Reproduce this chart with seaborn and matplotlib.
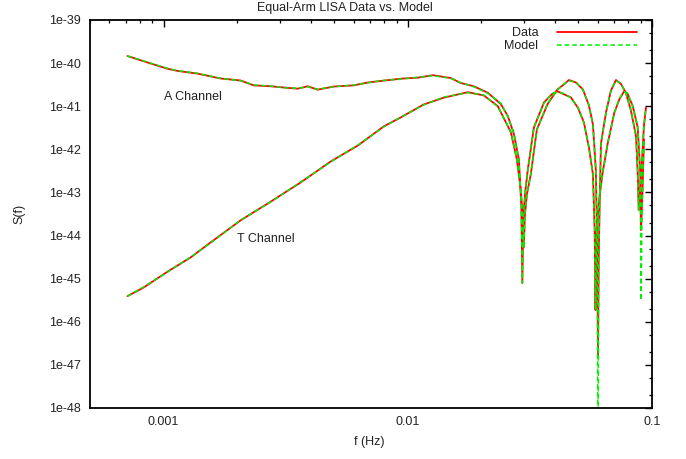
import numpy as np
import matplotlib
matplotlib.use("Agg")
import matplotlib.pyplot as plt
from matplotlib.ticker import LogLocator, FixedLocator, FuncFormatter, NullFormatter
from matplotlib.lines import Line2D
import seaborn as sns

# ---------------- data ----------------
f_A = [7.12e-4, 8.44e-4, 1.038e-3, 1.141e-3, 1.378e-3, 1.712e-3, 2.068e-3, 2.338e-3,
       2.745e-3, 3.10e-3, 3.54e-3, 3.89e-3, 4.28e-3, 4.97e-3, 6.01e-3, 6.86e-3,
       7.75e-3, 9.36e-3, 1.099e-2, 1.266e-2, 1.50e-2, 1.649e-2, 1.864e-2, 2.128e-2,
       2.405e-2, 2.57e-2, 2.719e-2, 2.850e-2, 2.918e-2, 2.946e-2, 2.974e-2, 3.031e-2,
       3.103e-2, 3.284e-2, 3.610e-2, 3.892e-2, 4.10e-2, 4.358e-2, 4.656e-2, 4.974e-2,
       5.264e-2, 5.52e-2, 5.73e-2, 5.825e-2, 5.87e-2, 5.924e-2, 6.07e-2, 6.28e-2,
       6.58e-2, 7.01e-2, 7.35e-2, 7.70e-2, 7.95e-2, 8.34e-2, 8.74e-2, 8.96e-2,
       9.01e-2, 9.12e-2, 9.27e-2]
S_A_model = [1.46e-40, 1.09e-40, 7.57e-41, 6.67e-41, 5.80e-41, 4.44e-41, 3.91e-41, 3.10e-41,
             2.94e-41, 2.69e-41, 2.60e-41, 2.83e-41, 2.47e-41, 2.83e-41, 3.10e-41, 3.51e-41,
             3.91e-41, 4.28e-41, 4.69e-41, 5.11e-41, 4.44e-41, 3.51e-41, 2.83e-41, 1.99e-41,
             1.17e-41, 5.71e-42, 2.39e-42, 5.65e-43, 5.10e-44, 7.9e-46, 2.99e-44, 1.14e-43,
             3.31e-43, 3.29e-42, 1.17e-41, 1.97e-41, 2.13e-41, 1.97e-41, 1.55e-41, 9.57e-42,
             4.07e-42, 1.13e-42, 2.54e-43, 1.34e-44, 1.87e-46, 1.03e-44, 6.67e-44, 2.77e-43,
             1.38e-42, 6.84e-42, 1.52e-41, 2.17e-41, 1.99e-41, 9.73e-42, 3.34e-42, 2.54e-43,
             3.18e-46, 6.67e-44, 1.64e-42]
S_A_data = [1.46e-40, 1.07e-40, 7.40e-41, 6.60e-41, 5.70e-41, 4.40e-41, 3.95e-41, 3.05e-41,
            2.90e-41, 2.72e-41, 2.55e-41, 2.90e-41, 2.42e-41, 2.86e-41, 3.05e-41, 3.55e-41,
            3.85e-41, 4.35e-41, 4.60e-41, 5.25e-41, 4.50e-41, 3.45e-41, 2.90e-41, 2.05e-41,
            1.12e-41, 5.90e-42, 2.30e-42, 5.90e-43, 4.90e-44, 7.9e-46, 3.10e-44, 1.10e-43,
            3.45e-43, 3.20e-42, 1.22e-41, 1.90e-41, 2.22e-41, 1.90e-41, 1.60e-41, 9.20e-42,
            4.20e-42, 1.08e-42, 2.65e-43, 1.30e-44, 1.87e-46, 1.10e-44, 6.40e-44, 2.90e-43,
            1.33e-42, 7.10e-42, 1.45e-41, 2.25e-41, 1.92e-41, 1.01e-41, 3.20e-42, 2.65e-43,
            1.34e-44, 6.40e-44, 1.70e-42]

f_T = [7.12e-4, 8.28e-4, 1.038e-3, 1.290e-3, 1.558e-3, 2.068e-3, 2.745e-3, 3.64e-3,
       4.83e-3, 6.24e-3, 7.97e-3, 9.36e-3, 1.163e-2, 1.405e-2, 1.762e-2, 2.048e-2,
       2.338e-2, 2.643e-2, 2.797e-2, 2.905e-2, 2.960e-2, 2.988e-2, 3.016e-2, 3.074e-2,
       3.19e-2, 3.378e-2, 3.737e-2, 4.10e-2, 4.358e-2, 4.568e-2, 4.881e-2, 5.214e-2,
       5.52e-2, 5.73e-2, 5.89e-2, 5.97e-2, 6.01e-2, 6.05e-2, 6.11e-2, 6.18e-2,
       6.48e-2, 6.79e-2, 7.12e-2, 7.46e-2, 7.82e-2, 8.20e-2, 8.60e-2, 8.75e-2,
       8.82e-2, 9.06e-2, 9.27e-2, 9.45e-2]
S_T_model = [3.94e-46, 6.38e-46, 1.42e-45, 3.17e-45, 6.70e-45, 2.29e-44, 5.99e-44, 1.74e-43,
             5.07e-43, 1.26e-42, 3.29e-42, 5.61e-42, 1.07e-41, 1.63e-41, 2.06e-41, 1.82e-41,
             9.73e-42, 2.56e-42, 5.65e-43, 1.14e-43, 2.29e-44, 5.41e-45, 2.99e-44, 8.71e-44,
             2.77e-43, 2.81e-42, 1.17e-41, 2.38e-41, 3.27e-41, 3.91e-41, 3.64e-41, 2.38e-41,
             1.07e-41, 3.66e-42, 3.31e-43, 4.61e-45, 1.0e-50, 2.70e-45, 6.67e-44, 1.40e-42,
             6.95e-42, 2.38e-41, 3.91e-41, 3.40e-41, 1.99e-41, 8.17e-42, 1.96e-42, 2.54e-43,
             3.91e-44, 3.31e-43, 3.66e-42, 9.08e-42]
S_T_data = [3.94e-46, 6.20e-46, 1.45e-45, 3.10e-45, 6.90e-45, 2.25e-44, 6.10e-44, 1.70e-43,
            5.20e-43, 1.22e-42, 3.40e-42, 5.50e-42, 1.10e-41, 1.58e-41, 2.12e-41, 1.78e-41,
            1.00e-41, 2.48e-42, 5.80e-43, 1.10e-43, 2.35e-44, 5.41e-45, 2.90e-44, 9.00e-44,
            2.65e-43, 2.90e-42, 1.12e-41, 2.45e-41, 3.20e-41, 4.05e-41, 3.55e-41, 2.45e-41,
            1.03e-41, 3.80e-42, 3.20e-43, 4.61e-45, 1.44e-47, 2.70e-45, 6.90e-44, 1.35e-42,
            7.20e-42, 2.30e-41, 4.05e-41, 3.30e-41, 2.05e-41, 7.90e-42, 2.05e-42, 2.45e-43,
            3.91e-44, 3.45e-43, 3.55e-42, 9.30e-42]

x_tick_vals = [1e-3, 1e-2, 1e-1]
x_tick_labels = ["0.001", "0.01", "0.1"]
y_tick_vals = [10.0 ** k for k in range(-48, -38)]

# ---------------- styling ----------------
sns.set_style("white")
plt.rcParams["font.family"] = ["Liberation Sans", "DejaVu Sans"]
plt.rcParams["font.size"] = 9

RED = "#ff0000"
GREEN = "#00ee00"

fig = plt.figure(figsize=(6.86, 4.59), dpi=100)
ax = fig.add_axes([90 / 686, 1 - 408 / 459, 562 / 686, 388 / 459])
ax.set_xscale("log")
ax.set_yscale("log")

dash = (0, (3, 2))
sns.lineplot(x=f_A, y=S_A_data, ax=ax, color=RED, lw=1.3, sort=False, estimator=None)
sns.lineplot(x=f_T, y=S_T_data, ax=ax, color=RED, lw=1.3, sort=False, estimator=None)
sns.lineplot(x=f_A, y=S_A_model, ax=ax, color=GREEN, lw=1.1, linestyle=dash, sort=False, estimator=None)
sns.lineplot(x=f_T, y=S_T_model, ax=ax, color=GREEN, lw=1.1, linestyle=dash, sort=False, estimator=None)

ax.set_xlim(5e-4, 0.1)
ax.set_ylim(1e-48, 1e-39)

ax.xaxis.set_major_locator(FixedLocator(x_tick_vals))
ax.xaxis.set_major_formatter(FuncFormatter(lambda v, p: x_tick_labels[x_tick_vals.index(min(x_tick_vals, key=lambda t: abs(np.log10(t) - np.log10(v))))]))
ax.xaxis.set_minor_locator(LogLocator(base=10, subs=np.arange(2, 10), numticks=50))
ax.xaxis.set_minor_formatter(NullFormatter())

ax.yaxis.set_major_locator(FixedLocator(y_tick_vals))
ax.yaxis.set_major_formatter(FuncFormatter(lambda v, p: "1e%d" % int(round(np.log10(v)))))
ax.yaxis.set_minor_locator(LogLocator(base=10, subs=(2.0, 5.0), numticks=50))
ax.yaxis.set_minor_formatter(NullFormatter())

ax.tick_params(which="both", direction="in", top=True, right=True, colors="black",
               labelsize=9, labelcolor="#222222")
ax.tick_params(which="major", length=5, width=1.0)
ax.tick_params(which="minor", length=2.5, width=0.9)
ax.tick_params(axis="x", which="major", pad=6)
ax.tick_params(axis="y", which="major", pad=6.5)
for sp in ax.spines.values():
    sp.set_visible(True)
    sp.set_color("black")
    sp.set_linewidth(1.3)

ax.set_xlabel("f (Hz)", fontsize=9, color="#222222")
ax.xaxis.set_label_coords(0.497, -(436 - 408) / 388)
ax.set_ylabel("S(f)", fontsize=9, color="#222222")
ax.yaxis.set_label_coords(-(90 - 25) / 562, 0.5)

fig.text(345 / 686, 1 - 8 / 459, "Equal-Arm LISA Data vs. Model", ha="center", va="center",
         fontsize=9, color="#222222")

ax.text(1.0e-3, 1.63e-41, "A Channel", ha="left", va="center", fontsize=9, color="#222222")
ax.text(1.99e-3, 8.3e-45, "T Channel", ha="left", va="center", fontsize=9, color="#222222")

handles = [Line2D([], [], color=RED, lw=1.3), Line2D([], [], color=GREEN, lw=1.1, linestyle=dash)]
leg = ax.legend(handles, ["Data", "Model"], loc="upper right",
                bbox_to_anchor=((637 - 90) / 562, (408 - 27) / 388),
                frameon=False, markerfirst=False, handlelength=6.4, handletextpad=1.5,
                labelspacing=0.1, borderaxespad=0, borderpad=0, fontsize=9)
for t in leg.get_texts():
    t.set_color("#222222")

fig.savefig("out.png", dpi=100)
